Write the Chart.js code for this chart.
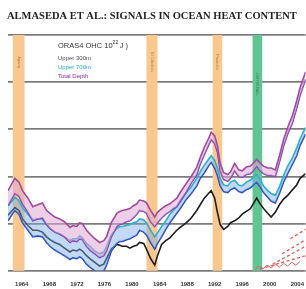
<!DOCTYPE html>
<html lang="en">
<head>
  <meta charset="UTF-8">
  <title>Signals in Ocean Heat Content</title>
  <script src="https://cdn.jsdelivr.net/npm/chart.js"></script>
  <style>
    body {
      margin: 0;
      background-color: #ffffff;
    }
    #ohcChart {
      display: block;
    }
  </style>
</head>
<body>

<canvas id="ohcChart" width="306" height="289"></canvas>

<script>
  // time axis (years) shared by every series
  const years = [1962.0,1962.6,1963.0,1963.6,1964.1,1964.9,1965.6,1966.3,1967.0,1967.6,
    1968.1,1968.8,1969.5,1970.2,1971.0,1971.4,1972.0,1972.4,1972.8,1973.4,
    1973.9,1974.6,1975.3,1975.9,1976.3,1977.0,1977.8,1978.2,1978.6,1979.2,
    1979.7,1980.2,1980.7,1981.1,1981.7,1982.1,1982.7,1983.3,1983.7,1984.3,
    1984.9,1985.5,1986.0,1986.5,1987.0,1987.9,1988.6,1989.4,1989.9,1990.5,
    1991.1,1991.5,1992.0,1992.4,1992.8,1993.3,1993.9,1994.3,1994.9,1995.5,
    1996.0,1996.6,1997.2,1997.6,1998.1,1998.5,1999.1,1999.7,2000.2,2000.8,
    2001.4,2002.0,2002.6,2003.3,2003.9,2004.4,2005.2];

  // Total depth ensemble (upper / lower members), 10^22 J
  const totalHigh = [-1.5,-0.7,-0.2,-0.6,-1.5,-2.3,-3.2,-3.0,-2.8,-3.6,
    -3.9,-4.3,-4.5,-4.8,-5.4,-5.2,-5.3,-4.9,-5.0,-5.7,
    -6.1,-6.6,-7.0,-6.8,-6.4,-4.9,-3.9,-3.7,-3.6,-3.5,
    -3.4,-3.1,-2.9,-2.5,-2.6,-2.8,-3.6,-4.3,-3.8,-3.4,
    -3.1,-2.9,-2.6,-2.3,-1.7,-0.7,0.0,1.0,2.0,3.1,
    4.0,4.7,4.3,3.3,1.4,0.4,0.2,0.5,1.4,0.7,
    0.6,1.0,1.1,1.4,1.8,1.5,1.1,0.9,0.9,0.7,
    2.2,3.9,5.2,6.5,8.0,9.4,11.1];
  const totalLow = [-3.1,-2.3,-1.8,-2.1,-2.9,-3.8,-4.7,-4.5,-4.4,-5.1,
    -5.5,-5.9,-6.1,-6.4,-7.0,-6.8,-6.9,-6.6,-6.7,-7.4,
    -7.8,-8.2,-8.6,-8.4,-7.9,-6.4,-5.3,-5.1,-5.0,-4.8,
    -4.7,-4.4,-4.0,-3.6,-3.7,-3.9,-4.8,-5.3,-4.9,-4.4,
    -4.0,-3.7,-3.4,-3.2,-2.6,-1.6,-0.7,0.2,1.3,2.3,
    3.3,3.9,3.5,2.6,0.6,-0.3,-0.5,-0.2,0.6,0.0,
    -0.1,0.2,0.3,0.6,1.1,0.7,0.3,0.1,0.1,0.0,
    1.5,3.2,4.5,5.7,7.2,8.6,10.3];

  // Upper 700m ensemble
  const upper700High = [-3.1,-2.6,-2.2,-2.6,-3.3,-4.0,-4.6,-4.5,-4.5,-5.1,
    -5.5,-5.9,-6.1,-6.4,-6.8,-6.6,-6.6,-6.3,-6.5,-7.1,
    -7.4,-7.9,-8.2,-8.0,-7.4,-6.2,-5.5,-5.3,-5.3,-5.2,
    -5.1,-4.9,-4.8,-4.5,-4.6,-4.9,-5.7,-6.4,-6.0,-5.3,
    -4.7,-4.0,-3.6,-3.2,-2.7,-1.7,-1.1,-0.2,0.5,1.2,
    1.8,2.2,1.7,0.9,-0.2,-0.9,-1.0,-0.6,-0.4,-0.9,
    -1.0,-0.6,-0.4,-0.1,0.2,-0.2,-1.0,-1.5,-1.8,-2.0,
    -1.1,0.1,1.1,2.0,3.0,4.0,5.2];
  const upper700Low = [-4.7,-4.0,-3.6,-4.0,-4.9,-5.7,-6.4,-6.3,-6.4,-7.0,
    -7.4,-7.8,-8.1,-8.4,-8.8,-8.6,-8.7,-8.5,-8.7,-9.3,
    -9.6,-10.0,-10.2,-10.0,-9.4,-7.9,-7.1,-6.9,-6.9,-6.7,
    -6.6,-6.4,-6.2,-5.7,-5.9,-6.2,-7.0,-7.7,-7.1,-6.4,
    -5.6,-4.9,-4.4,-3.9,-3.4,-2.4,-1.8,-1.0,-0.2,0.4,
    1.1,1.5,0.9,0.1,-1.0,-1.6,-1.7,-1.4,-1.2,-1.6,
    -1.7,-1.4,-1.2,-0.9,-0.6,-1.0,-1.7,-2.2,-2.6,-2.8,
    -1.8,-0.6,0.3,1.3,2.2,3.3,4.5];

  // Upper 300m
  const upper300 = [-4.1,-3.6,-3.3,-3.6,-4.5,-5.2,-5.7,-5.7,-5.9,-6.4,
    -6.7,-7.0,-7.2,-7.6,-8.0,-7.8,-7.9,-7.7,-7.9,-8.4,
    -8.7,-9.1,-9.5,-9.3,-8.7,-7.7,-7.2,-7.3,-7.4,-7.4,
    -7.6,-7.4,-7.3,-7.0,-7.1,-7.7,-8.7,-9.4,-8.4,-7.2,
    -6.8,-6.5,-6.1,-5.7,-5.4,-4.9,-4.4,-3.6,-3.0,-2.3,
    -1.8,-1.5,-2.3,-3.8,-5.1,-5.6,-5.3,-4.9,-4.7,-4.4,
    -4.0,-3.7,-3.4,-2.9,-2.3,-2.8,-3.4,-3.9,-4.3,-3.8,
    -3.0,-2.4,-2.0,-1.4,-0.9,-0.2,0.3];

  // red dashed trend segments in the lower right corner
  const trendStart = [2003.0, 2001.8, 2000.4, 1998.6];
  const trendEnd = [2005.2, 2005.2, 2005.2, 2005.2];
  const trendStartVal = [-6.6, -8.2, -9.3, -9.8];
  const trendEndVal = [-5.6, -6.7, -7.4, -8.4];

  // short red wiggle sitting on the bottom axis
  const redYears = [1997.8, 1998.4, 1999.0, 1999.6, 2000.2, 2000.8, 2001.4, 2002.0, 2002.6, 2003.2, 2003.8, 2004.4];
  const redVals = [-9.9, -9.5, -9.8, -9.4, -9.7, -9.3, -9.6, -9.2, -9.5, -9.1, -9.4, -9.0];

  // volcanic eruptions and the 1997/98 El Nino
  const eventNames = ["Agung", "El Chichón", "Pinatubo", "1997 El Niño"];
  const eventStart = [1962.7, 1982.1, 1991.7, 1997.5];
  const eventEnd = [1964.4, 1983.7, 1993.1, 1998.9];

  const tickYears = [1964, 1968, 1972, 1976, 1980, 1984, 1988, 1992, 1996, 2000, 2004];

  const pts = (vals) => years.map((y, i) => ({ x: y, y: vals[i] }));

  const trendSets = trendStart.map((s, i) => ({
    data: [{ x: s, y: trendStartVal[i] }, { x: trendEnd[i], y: trendEndVal[i] }],
    borderColor: "#d95b5b",
    borderWidth: 1.3,
    borderDash: [3, 2.5],
    pointRadius: 0,
    fill: false
  }));

  // shaded event bands and the rotated labels inside them
  const bandPlugin = {
    id: "bands",
    beforeDatasetsDraw(chart) {
      const { ctx, chartArea, scales } = chart;
      ctx.save();
      eventStart.forEach((s, i) => {
        const x0 = scales.x.getPixelForValue(s);
        const x1 = scales.x.getPixelForValue(eventEnd[i]);
        const green = i === 3;
        ctx.fillStyle = green ? "#62c493" : "#f8c88e";
        ctx.fillRect(x0, chartArea.top, x1 - x0, chartArea.bottom - chartArea.top);
        ctx.save();
        ctx.translate((x0 + x1) / 2, green ? 84 : 62);
        ctx.rotate(Math.PI / 2);
        ctx.fillStyle = green ? "#2f7a55" : "#b9824a";
        ctx.font = "4px 'Liberation Sans'";
        ctx.textAlign = "center";
        ctx.textBaseline = "middle";
        ctx.fillText(eventNames[i], 0, 0);
        ctx.restore();
      });
      ctx.restore();
    }
  };

  // header text and the little legend block
  const textPlugin = {
    id: "texts",
    afterDraw(chart) {
      const { ctx } = chart;
      ctx.save();
      ctx.fillStyle = "#222";
      ctx.font = "bold 10.5px 'Liberation Serif'";
      ctx.textBaseline = "alphabetic";
      ctx.fillText("ALMASEDA ET AL.: SIGNALS IN OCEAN HEAT CONTENT", 7, 19);

      ctx.font = "7.5px 'Liberation Sans'";
      ctx.fillStyle = "#333";
      ctx.fillText("ORAS4 OHC 10", 58, 48);
      const w = ctx.measureText("ORAS4 OHC 10").width;
      ctx.font = "5px 'Liberation Sans'";
      ctx.fillText("22", 58 + w, 44);
      ctx.font = "7.5px 'Liberation Sans'";
      ctx.fillText(" J )", 58 + w + 5, 48);

      ctx.font = "6px 'Liberation Sans'";
      ctx.fillStyle = "#4a4a5a";
      ctx.fillText("Upper 300m", 58, 60);
      ctx.fillStyle = "#22a9cf";
      ctx.fillText("Upper 700m", 58, 69);
      ctx.fillStyle = "#8a2a9c";
      ctx.fillText("Total Depth", 58, 78);
      ctx.restore();
    }
  };

  new Chart(document.getElementById("ohcChart"), {
    type: "line",
    data: {
      datasets: [
        { data: pts(totalHigh), borderColor: "#a04a9e", backgroundColor: "rgba(222,168,214,0.55)", fill: "+1", borderWidth: 1.6, pointRadius: 0 },
        { data: pts(totalLow), borderColor: "#7b3fb0", borderWidth: 1.6, pointRadius: 0, fill: false },
        { data: pts(upper700High), borderColor: "#2eb0c6", backgroundColor: "rgba(120,170,230,0.45)", fill: "+1", borderWidth: 1.6, pointRadius: 0 },
        { data: pts(upper700Low), borderColor: "#2343c0", borderWidth: 1.6, pointRadius: 0, fill: false },
        { data: pts(upper300), borderColor: "#1d1d1d", borderWidth: 1.6, pointRadius: 0, fill: false },
        { data: redYears.map((y, i) => ({ x: y, y: redVals[i] })), borderColor: "#d9686a", borderWidth: 1, pointRadius: 0, fill: false },
        ...trendSets
      ]
    },
    options: {
      responsive: false,
      animation: false,
      layout: { padding: { left: 8, right: -9, top: 35, bottom: -1 } },
      plugins: {
        legend: { display: false },
        tooltip: { enabled: false },
        title: { display: false }
      },
      scales: {
        x: {
          type: "linear",
          min: 1962,
          max: 2005.2,
          grid: { display: false },
          border: { display: false },
          afterBuildTicks: (scale) => {
            scale.ticks = tickYears.map((v) => ({ value: v }));
          },
          ticks: {
            padding: 2,
            maxRotation: 0,
            autoSkip: false,
            color: "#333",
            font: { family: "Liberation Sans", size: 6, weight: "bold" },
            callback: (v) => String(v)
          }
        },
        y: {
          min: -10,
          max: 15,
          ticks: { display: false, stepSize: 5 },
          border: { display: false },
          grid: { color: "#7c7c7c", lineWidth: 1.7, drawTicks: false }
        }
      }
    },
    plugins: [bandPlugin, textPlugin]
  });
</script>

</body>
</html>
